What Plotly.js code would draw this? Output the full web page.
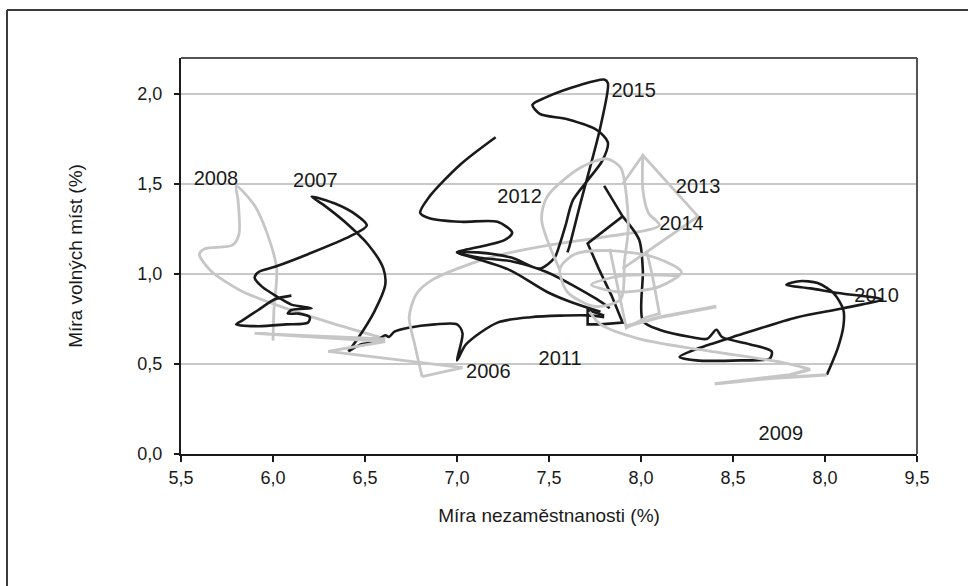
<!DOCTYPE html>
<html>
<head>
<meta charset="utf-8">
<script src="https://cdn.plot.ly/plotly-3.0.1.min.js"></script>
<style>
  html, body { margin: 0; padding: 0; background: #ffffff; }
  #chart { width: 968px; height: 586px; }
</style>
</head>
<body>
<div id="chart"></div>
<script>
// ---------- data (unemployment rate %, vacancy rate %) ----------
const xTickVals = [5.5, 6.0, 6.5, 7.0, 7.5, 8.0, 8.5, 9.0, 9.5];
const xTickText = ['5,5', '6,0', '6,5', '7,0', '7,5', '8,0', '8,5', '8,0', '9,5'];
const yTickVals = [0, 0.5, 1.0, 1.5, 2.0];
const yTickText = ['0,0', '0,5', '1,0', '1,5', '2,0'];

// black segments
const blk2007X = [6.10,6.01,5.92,5.83,5.80,5.92,6.07,6.19,6.20,6.14,6.08,6.10,6.21,6.10,6.03,5.94,5.90,5.92,6.01,6.19,6.42,6.51,6.45,6.34,6.21,6.28,6.39,6.52,6.60,6.61,6.55,6.46,6.41];
const blk2007Y = [0.88,0.86,0.80,0.74,0.72,0.71,0.72,0.73,0.76,0.78,0.78,0.80,0.81,0.83,0.87,0.93,0.98,1.01,1.04,1.11,1.21,1.27,1.33,1.39,1.43,1.38,1.29,1.16,1.03,0.94,0.79,0.64,0.57];

const blk2006X = [6.41,6.48,6.55,6.61,6.63,6.66,6.73,6.88,7.00,7.03,7.00,7.05,7.22,7.40,7.71,7.80];
const blk2006Y = [0.57,0.61,0.62,0.66,0.65,0.68,0.70,0.72,0.72,0.67,0.52,0.61,0.73,0.76,0.77,0.76];

const blk2012X = [7.21,7.02,6.85,6.80,6.85,7.02,7.22,7.30,7.26,7.03,7.00,7.09,7.29,7.49,7.63,7.78];
const blk2012Y = [1.76,1.61,1.43,1.34,1.31,1.29,1.29,1.23,1.19,1.13,1.12,1.09,1.02,0.90,0.84,0.79];

const blk2015X = [7.60,7.61,7.67,7.72,7.78,7.82,7.80,7.67,7.48,7.41,7.45,7.60,7.76,7.82,7.79,7.71,7.63,7.59,7.56,7.53,7.45,7.30,7.11,7.00,7.125,7.30,7.49,7.76,7.83];
const blk2015Y = [1.12,1.15,1.39,1.58,1.82,2.06,2.08,2.05,1.98,1.94,1.89,1.86,1.80,1.73,1.63,1.52,1.41,1.27,1.17,1.09,1.03,1.09,1.12,1.12,1.09,1.07,1.01,0.86,0.81];

const blk2011X = [7.80,7.90,7.71,7.77,7.84,7.90,7.78,7.71,7.71,7.80];
const blk2011Y = [1.49,1.32,1.17,1.03,0.88,0.73,0.72,0.72,0.80,0.77];

const blk2010X = [7.90,7.99,8.01,8.01,8.10,8.27,8.36,8.41,8.44,8.59,8.71,8.70,8.54,8.30,8.21,8.32,8.50,8.85,9.10,9.31,9.19,9.10,8.92,8.79,8.86,8.96,9.05,9.10,9.10,9.07,9.01];
const blk2010Y = [1.32,1.19,1.02,0.74,0.69,0.65,0.64,0.69,0.65,0.61,0.57,0.53,0.52,0.52,0.54,0.59,0.65,0.76,0.81,0.86,0.88,0.89,0.92,0.94,0.96,0.95,0.89,0.80,0.71,0.59,0.44];

// grey segments
const gry2008X = [6.00,6.005,6.02,5.97,5.90,5.80,5.81,5.815,5.78,5.63,5.60,5.66,5.82,6.04,6.31,6.61];
const gry2008Y = [0.63,0.80,1.03,1.22,1.38,1.49,1.41,1.22,1.16,1.14,1.11,1.02,0.91,0.82,0.73,0.64];

const gry2006aX = [6.61,5.90,6.61,6.30,7.03,6.81];
const gry2006aY = [0.64,0.67,0.625,0.57,0.48,0.43];

const gry2006bX = [6.81,6.77,6.74,6.78,6.87,7.14,7.34,7.56,7.83,8.10,8.04,8.01,8.01];
const gry2006bY = [0.43,0.61,0.76,0.89,0.97,1.08,1.13,1.17,1.21,1.27,1.34,1.47,1.66];

const gry2013X = [7.90,8.01,8.31,7.90];
const gry2013Y = [1.50,1.66,1.32,1.03];

const gry2012X = [7.56,7.46,7.49,7.67,7.815,7.89,7.92,7.93,7.91,7.89,7.75,7.60,7.56,7.64,7.83,8.08,8.22,8.10,7.89,7.73,7.89,8.21];
const gry2012Y = [1.02,1.30,1.43,1.59,1.64,1.59,1.44,1.24,1.07,0.86,0.82,0.90,1.03,1.11,1.13,1.09,1.01,0.93,0.90,0.94,0.99,0.99];

const gry2011X = [7.83,7.88,7.92,8.03,8.10,8.06,8.03];
const gry2011Y = [1.14,0.90,0.70,0.76,0.78,1.00,1.13];

const gry2010X = [7.92,8.10,8.41];
const gry2010Y = [0.71,0.76,0.82];

const gry2009aX = [7.72,7.78,7.99,8.32,8.76,8.92];
const gry2009aY = [0.79,0.72,0.64,0.58,0.51,0.47];
const gry2009bX = [8.92,8.81,8.40,8.70,9.01];
const gry2009bY = [0.47,0.44,0.39,0.42,0.44];

// year labels
const yearText = ['2006','2007','2008','2009','2010','2011','2012','2013','2014','2015'];
const yearX = [7.17, 6.23, 5.69, 8.76, 9.28, 7.56, 7.34, 8.31, 8.22, 7.96];
const yearY = [0.45, 1.51, 1.52, 0.105, 0.87, 0.52, 1.42, 1.48, 1.27, 2.01];

// ---------- styling ----------
const BLACK = '#1a1a1a';
const GREY = '#c6c6c6';
const FONT = "'Liberation Sans', Arial, sans-serif";

function seg(x, y, color, shape, width, name) {
  return {
    type: 'scatter', mode: 'lines', x: x, y: y, name: name,
    line: { color: color, width: width || 2.6, shape: shape, smoothing: 0.8 },
    hoverinfo: 'x+y', showlegend: false
  };
}

const traces = [
  seg(gry2008X, gry2008Y, GREY, 'spline', 2.8, '2008'),
  seg(blk2007X, blk2007Y, BLACK, 'spline', 2.6, '2007'),
  seg(blk2006X, blk2006Y, BLACK, 'spline', 2.6, '2006'),
  seg(gry2006aX, gry2006aY, GREY, 'linear', 2.8, '2006b'),
  seg(gry2006bX, gry2006bY, GREY, 'spline', 2.8, '2006c'),
  seg(blk2012X, blk2012Y, BLACK, 'spline', 2.6, '2012'),
  seg(blk2015X, blk2015Y, BLACK, 'spline', 2.6, '2015'),
  seg(blk2011X, blk2011Y, BLACK, 'linear', 2.6, '2011'),
  seg(blk2010X, blk2010Y, BLACK, 'spline', 2.6, '2010'),
  seg(gry2012X, gry2012Y, GREY, 'spline', 2.8, '2012b'),
  seg(gry2013X, gry2013Y, GREY, 'linear', 2.8, '2013'),
  seg(gry2011X, gry2011Y, GREY, 'linear', 2.8, '2011b'),
  seg(gry2010X, gry2010Y, GREY, 'linear', 3.6, '2010b'),
  seg(gry2009aX, gry2009aY, GREY, 'spline', 2.8, '2009'),
  seg(gry2009bX, gry2009bY, GREY, 'linear', 3.2, '2009b'),
  {
    type: 'scatter', mode: 'text', x: yearX, y: yearY, text: yearText,
    textposition: 'middle center',
    textfont: { family: FONT, size: 20, color: '#1a1a1a' },
    hoverinfo: 'text', showlegend: false, cliponaxis: false
  }
];

const layout = {
  width: 968, height: 586,
  margin: { l: 181, r: 51, t: 58, b: 132 },
  paper_bgcolor: '#ffffff', plot_bgcolor: '#ffffff',
  font: { family: FONT, size: 18, color: '#1a1a1a' },
  showlegend: false,
  xaxis: {
    range: [5.5, 9.5], tickmode: 'array', tickvals: xTickVals, ticktext: xTickText,
    showgrid: false, zeroline: false,
    showline: true, linecolor: BLACK, linewidth: 2,
    ticks: 'outside', ticklen: 6, tickwidth: 1.5, tickcolor: BLACK,
    tickfont: { family: FONT, size: 18, color: '#1a1a1a' },
    title: { text: 'Míra nezaměstnanosti (%)', font: { family: FONT, size: 19, color: '#1a1a1a' }, standoff: 22 }
  },
  yaxis: {
    range: [0, 2.2], tickmode: 'array', tickvals: yTickVals, ticktext: yTickText,
    showgrid: true, gridcolor: '#c8c8c8', gridwidth: 2, zeroline: false,
    showline: true, linecolor: BLACK, linewidth: 2,
    ticks: 'outside', ticklen: 5, tickwidth: 1.5, tickcolor: BLACK,
    ticklabelstandoff: 8,
    tickfont: { family: FONT, size: 18, color: '#1a1a1a' },
    title: { text: 'Míra volných míst (%)', font: { family: FONT, size: 19, color: '#1a1a1a' }, standoff: 50 }
  },
  shapes: [
    { type: 'line', xref: 'paper', yref: 'paper', x0: 0, x1: 1, y0: 1, y1: 1, line: { color: '#555555', width: 2 } },
    { type: 'line', xref: 'paper', yref: 'paper', x0: 1, x1: 1, y0: 0, y1: 1, line: { color: '#555555', width: 2 } },
    { type: 'line', xref: 'paper', yref: 'paper', x0: -0.2364, x1: 1.2, y0: 1.1212, y1: 1.1212, line: { color: '#3a3a3a', width: 2 } },
    { type: 'line', xref: 'paper', yref: 'paper', x0: -0.2364, x1: -0.2364, y0: 1.1212, y1: -0.6, line: { color: '#3a3a3a', width: 2 } }
  ]
};

Plotly.newPlot('chart', traces, layout, { staticPlot: true, displayModeBar: false });
</script>
</body>
</html>
